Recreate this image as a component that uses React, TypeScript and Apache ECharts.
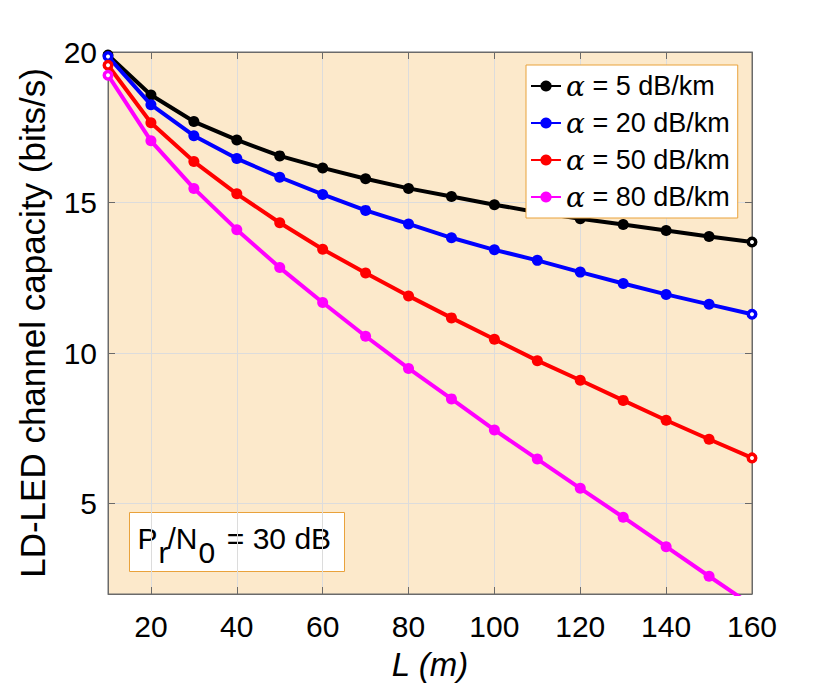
import React, { useEffect, useRef } from 'react';
import * as echarts from 'echarts';

const distances = [10, 20, 30, 40, 50, 60, 70, 80, 90, 100, 110, 120, 130, 140, 150, 160];
const alpha5 = [19.9, 18.57, 17.69, 17.08, 16.55, 16.15, 15.79, 15.47, 15.2, 14.93, 14.68, 14.46, 14.27, 14.07, 13.87, 13.69];
const alpha20 = [19.85, 18.25, 17.22, 16.46, 15.84, 15.27, 14.74, 14.29, 13.83, 13.43, 13.08, 12.69, 12.31, 11.95, 11.62, 11.29];
const alpha50 = [19.56, 17.65, 16.36, 15.29, 14.33, 13.45, 12.66, 11.9, 11.17, 10.46, 9.75, 9.1, 8.43, 7.77, 7.14, 6.52];
const alpha80 = [19.23, 17.05, 15.47, 14.1, 12.84, 11.68, 10.56, 9.49, 8.48, 7.45, 6.48, 5.51, 4.55, 3.57, 2.59, 1.62];

const seriesNames = ['α = 5 dB/km', 'α = 20 dB/km', 'α = 50 dB/km', 'α = 80 dB/km'];
const seriesColors = ['#000000', '#0000FF', '#FF0000', '#FF00FF'];
const xTickValues = [20, 40, 60, 80, 100, 120, 140, 160];
const yTickValues = [5, 10, 15, 20];

const FONT = '"Liberation Sans", Arial, Helvetica, sans-serif';
const AXIS_GRAY = '#6a6a6a';
const BORDER_ORANGE = '#E9A23B';

function buildData(vals: number[], color: string) {
  return vals.map((v, i) => {
    const isEnd = i === 0 || i === vals.length - 1;
    if (!isEnd) return [distances[i], v];
    return {
      value: [distances[i], v],
      symbolSize: 7.5,
      itemStyle: { color: '#ffffff', borderColor: color, borderWidth: 3.5 },
    };
  });
}

export default function App() {
  const ref = useRef<HTMLDivElement>(null);

  useEffect(() => {
    document.body.style.margin = '0';
    if (!ref.current) return;
    const chart = echarts.init(ref.current, undefined, { renderer: 'svg' });
    const allSeries = [alpha5, alpha20, alpha50, alpha80];

    const option: any = {
      animation: false,
      backgroundColor: '#ffffff',
      grid: {
        left: 108,
        right: 78,
        top: 52,
        bottom: 97,
        show: true,
        backgroundColor: '#FCE9CB',
        borderColor: AXIS_GRAY,
        borderWidth: 1,
      },
      legend: {
        orient: 'vertical',
        left: 526,
        top: 65,
        padding: [7, 8, 7, 4],
        backgroundColor: '#ffffff',
        borderColor: BORDER_ORANGE,
        borderWidth: 1,
        borderRadius: 0,
        itemWidth: 30,
        itemHeight: 14,
        itemGap: 9,
        data: seriesNames,
        formatter: (name: string) => name.replace('α', '{a|α}'),
        textStyle: {
          fontFamily: FONT,
          fontSize: 27,
          lineHeight: 27,
          color: '#000',
          rich: {
            a: {
              fontFamily: '"DejaVu Serif", "Liberation Serif", serif',
              fontStyle: 'italic',
              fontSize: 28,
              color: '#000',
            },
          },
        },
      },
      xAxis: [
        {
          type: 'value',
          min: 10,
          max: 160,
          position: 'bottom',
          name: 'L (m)',
          nameLocation: 'middle',
          nameGap: 54,
          nameTextStyle: { fontFamily: FONT, fontSize: 33, fontStyle: 'italic', color: '#000' },
          axisLine: { show: true, lineStyle: { color: AXIS_GRAY, width: 1 } },
          axisTick: { show: true, inside: true, length: 7, customValues: xTickValues, lineStyle: { color: AXIS_GRAY } },
          axisLabel: { show: true, customValues: xTickValues, margin: 17, fontFamily: FONT, fontSize: 30, color: '#000' },
          splitLine: { show: true, customValues: xTickValues, lineStyle: { color: '#DCDCDC', width: 1 } },
        },
        {
          type: 'value',
          min: 10,
          max: 160,
          position: 'top',
          axisLine: { show: true, lineStyle: { color: AXIS_GRAY, width: 1 } },
          axisTick: { show: true, inside: true, length: 7, customValues: xTickValues, lineStyle: { color: AXIS_GRAY } },
          axisLabel: { show: false },
          splitLine: { show: false },
        },
      ],
      yAxis: [
        {
          type: 'value',
          min: 2,
          max: 20,
          position: 'left',
          name: 'LD-LED channel capacity (bits/s)',
          nameLocation: 'middle',
          nameRotate: 90,
          nameGap: 58,
          nameTextStyle: { fontFamily: FONT, fontSize: 35, color: '#000' },
          axisLine: { show: true, lineStyle: { color: AXIS_GRAY, width: 1 } },
          axisTick: { show: true, inside: true, length: 7, customValues: yTickValues, lineStyle: { color: AXIS_GRAY } },
          axisLabel: { show: true, customValues: yTickValues, margin: 11, fontFamily: FONT, fontSize: 30, color: '#000' },
          splitLine: { show: true, customValues: yTickValues, lineStyle: { color: '#DCDCDC', width: 1 } },
        },
        {
          type: 'value',
          min: 2,
          max: 20,
          position: 'right',
          axisLine: { show: true, lineStyle: { color: AXIS_GRAY, width: 1 } },
          axisTick: { show: true, inside: true, length: 7, customValues: yTickValues, lineStyle: { color: AXIS_GRAY } },
          axisLabel: { show: false },
          splitLine: { show: false },
        },
      ],
      series: allSeries.map((vals, k) => ({
        name: seriesNames[k],
        type: 'line',
        xAxisIndex: 0,
        yAxisIndex: 0,
        clip: true,
        data: buildData(vals, seriesColors[k]),
        symbol: 'circle',
        symbolSize: 11,
        color: seriesColors[k],
        lineStyle: { color: seriesColors[k], width: 4 },
        itemStyle: { color: seriesColors[k] },
        z: 2 + k,
      })),
      graphic: [
        {
          type: 'group',
          left: 129,
          top: 512,
          z: 100,
          children: [
            {
              type: 'rect',
              shape: { x: 0, y: 0, width: 215, height: 59 },
              style: { fill: '#ffffff', stroke: BORDER_ORANGE, lineWidth: 1 },
            },
            {
              type: 'text',
              x: 8,
              y: 26,
              style: { text: 'P', font: `30px ${FONT}`, fill: '#000', verticalAlign: 'middle', align: 'left' },
            },
            {
              type: 'text',
              x: 29,
              y: 40,
              style: { text: 'r', font: `30px ${FONT}`, fill: '#000', verticalAlign: 'middle', align: 'left' },
            },
            {
              type: 'text',
              x: 38,
              y: 26,
              style: { text: '/N', font: `30px ${FONT}`, fill: '#000', verticalAlign: 'middle', align: 'left' },
            },
            {
              type: 'text',
              x: 69,
              y: 40,
              style: { text: '0', font: `30px ${FONT}`, fill: '#000', verticalAlign: 'middle', align: 'left' },
            },
            {
              type: 'text',
              x: 89,
              y: 26,
              style: { text: ' = 30 dB', font: `30px ${FONT}`, fill: '#000', verticalAlign: 'middle', align: 'left' },
            },
          ],
        },
      ],
    };

    chart.setOption(option);
    return () => {
      chart.dispose();
    };
  }, []);

  return <div ref={ref} style={{ width: 830, height: 691 }} />;
}
